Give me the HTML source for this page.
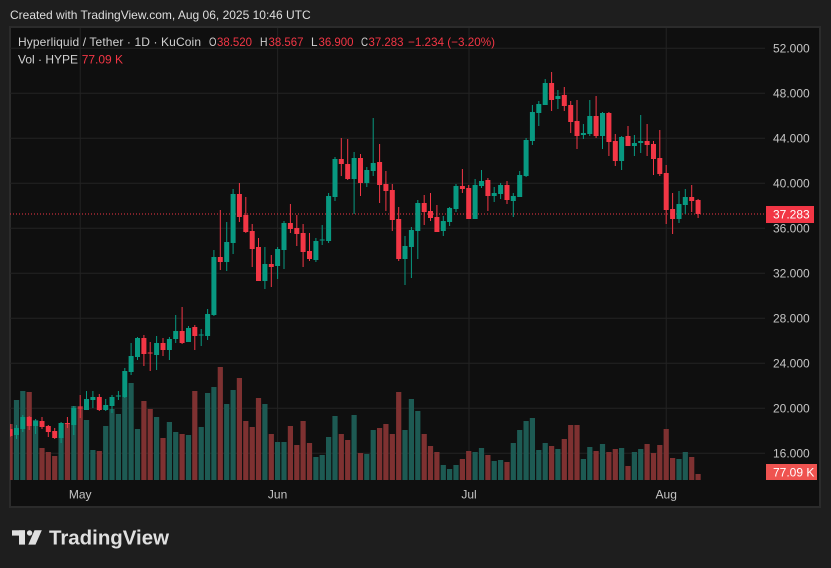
<!DOCTYPE html>
<html><head><meta charset="utf-8"><style>
html,body{margin:0;padding:0;background:#1e1e1e;width:831px;height:568px;overflow:hidden}
svg{display:block}
text{font-family:"Liberation Sans",sans-serif}
</style></head><body>
<svg width="831" height="568" viewBox="0 0 831 568" xmlns="http://www.w3.org/2000/svg">
<defs><clipPath id="pane"><rect x="10" y="27" width="755" height="453"/></clipPath></defs>
<rect x="0" y="0" width="831" height="568" fill="#1e1e1e"/>
<text x="10" y="19" font-size="12" fill="#dedede">Created with TradingView.com, Aug 06, 2025 10:46 UTC</text>
<rect x="10" y="27" width="810" height="480" fill="#0f0f0f" stroke="#2b2b2b" stroke-width="2"/>
<g stroke="#232323" stroke-width="1">
<path d="M10 48.3H765M10 93.3H765M10 138.3H765M10 183.3H765M10 228.3H765M10 273.3H765M10 318.3H765M10 363.3H765M10 408.3H765M10 453.3H765"/>
<path d="M80.2 28V480M277.6 28V480M469 28V480M666.2 28V480"/>
</g>
<g clip-path="url(#pane)">
<path fill="#1d5a53" d="M13.9 400h5.2V480h-5.2zM20.2 391h5.2V480h-5.2zM33 420h5.2V480h-5.2zM58.5 423h5.2V480h-5.2zM71.2 406h5.2V480h-5.2zM83.9 420h5.2V480h-5.2zM90.3 450h5.2V480h-5.2zM103.1 426h5.2V480h-5.2zM109.4 409h5.2V480h-5.2zM115.8 414h5.2V480h-5.2zM122.2 397h5.2V480h-5.2zM128.5 383h5.2V480h-5.2zM134.9 429h5.2V480h-5.2zM154 417h5.2V480h-5.2zM166.8 422h5.2V480h-5.2zM173.1 432h5.2V480h-5.2zM185.9 435h5.2V480h-5.2zM198.6 427h5.2V480h-5.2zM205 393h5.2V480h-5.2zM211.3 387h5.2V480h-5.2zM224.1 404h5.2V480h-5.2zM230.5 390h5.2V480h-5.2zM262.3 404h5.2V480h-5.2zM275 442h5.2V480h-5.2zM281.4 442h5.2V480h-5.2zM313.3 457h5.2V480h-5.2zM319.6 455h5.2V480h-5.2zM326 437h5.2V480h-5.2zM332.4 416h5.2V480h-5.2zM351.5 415h5.2V480h-5.2zM364.2 454h5.2V480h-5.2zM370.6 430h5.2V480h-5.2zM402.4 430h5.2V480h-5.2zM408.8 399h5.2V480h-5.2zM415.2 411h5.2V480h-5.2zM440.7 465h5.2V480h-5.2zM447 469h5.2V480h-5.2zM453.4 465h5.2V480h-5.2zM472.5 452h5.2V480h-5.2zM478.9 448h5.2V480h-5.2zM491.6 461h5.2V480h-5.2zM498 460h5.2V480h-5.2zM510.7 443h5.2V480h-5.2zM517.1 430h5.2V480h-5.2zM523.5 421h5.2V480h-5.2zM529.8 418h5.2V480h-5.2zM536.2 450h5.2V480h-5.2zM542.6 443h5.2V480h-5.2zM555.3 449h5.2V480h-5.2zM580.8 459h5.2V480h-5.2zM587.2 447h5.2V480h-5.2zM599.9 444h5.2V480h-5.2zM619 448h5.2V480h-5.2zM631.8 452h5.2V480h-5.2zM638.1 449h5.2V480h-5.2zM676.4 459h5.2V480h-5.2zM682.7 452h5.2V480h-5.2z"/>
<path fill="#7e3131" d="M7.5 424h5.2V480h-5.2zM26.6 392h5.2V480h-5.2zM39.4 448h5.2V480h-5.2zM45.7 452h5.2V480h-5.2zM52.1 456h5.2V480h-5.2zM64.8 423h5.2V480h-5.2zM77.6 406h5.2V480h-5.2zM96.7 451h5.2V480h-5.2zM141.3 401h5.2V480h-5.2zM147.6 409h5.2V480h-5.2zM160.4 438h5.2V480h-5.2zM179.5 434h5.2V480h-5.2zM192.2 391h5.2V480h-5.2zM217.7 367h5.2V480h-5.2zM236.8 378h5.2V480h-5.2zM243.2 421h5.2V480h-5.2zM249.6 427h5.2V480h-5.2zM255.9 398h5.2V480h-5.2zM268.7 434h5.2V480h-5.2zM287.8 426h5.2V480h-5.2zM294.2 445h5.2V480h-5.2zM300.5 421h5.2V480h-5.2zM306.9 443h5.2V480h-5.2zM338.7 434h5.2V480h-5.2zM345.1 440h5.2V480h-5.2zM357.9 453h5.2V480h-5.2zM377 428h5.2V480h-5.2zM383.3 424h5.2V480h-5.2zM389.7 434h5.2V480h-5.2zM396.1 392h5.2V480h-5.2zM421.6 434h5.2V480h-5.2zM427.9 446h5.2V480h-5.2zM434.3 452h5.2V480h-5.2zM459.8 459h5.2V480h-5.2zM466.1 451h5.2V480h-5.2zM485.3 455h5.2V480h-5.2zM504.4 462h5.2V480h-5.2zM549 446h5.2V480h-5.2zM561.7 439h5.2V480h-5.2zM568.1 425h5.2V480h-5.2zM574.4 425h5.2V480h-5.2zM593.5 451h5.2V480h-5.2zM606.3 452h5.2V480h-5.2zM612.7 449h5.2V480h-5.2zM625.4 466h5.2V480h-5.2zM644.5 444h5.2V480h-5.2zM650.9 453h5.2V480h-5.2zM657.2 445h5.2V480h-5.2zM663.6 429h5.2V480h-5.2zM670 458h5.2V480h-5.2zM689.1 457h5.2V480h-5.2zM695.5 474h5.2V480h-5.2z"/>
<path stroke="#f23645" stroke-width="1" stroke-dasharray="1 2" d="M10 214H765"/>
<path stroke="#089981" stroke-width="1" fill="none" d="M16.5 425V439M22.8 415V432M35.6 419V434M61.1 422V443M73.8 406V435M86.5 391V410M92.9 391V408M105.7 399V411M112 395V413M118.4 391V400M124.8 368V398M131.1 343V375M137.5 337V360M156.6 336V370M169.4 337V360M175.7 315V343M188.5 326V342M201.2 329V346M207.6 309V340M213.9 250V316M226.7 222V271M233.1 189V254M264.9 247V289M277.6 247V279M284 221V269M315.9 238V262M322.2 225V245M328.6 193V243M335 157V201M354.1 152V214M366.8 167V187M373.2 118V176M405 236V285M411.4 227V278M417.8 200V259M443.3 216V236M449.6 207V226M456 184V212M475.1 179V219M481.5 170V188M494.2 187V202M500.6 183V199M513.3 193V217M519.7 171V197M526.1 138V177M532.4 105V145M538.8 101V126M545.2 79V105M557.9 90V109M583.4 124V139M589.8 100V136M602.5 112V149M621.6 136V170M634.4 135V156M640.7 115V153M679 191V223M685.3 189V214"/>
<path fill="#089981" d="M14 428h5v7h-5zM20.3 417h5v12h-5zM33.1 421h5v5h-5zM58.6 423h5v15h-5zM71.3 408h5v17h-5zM84 399h5v11h-5zM90.4 397h5v3h-5zM103.2 405h5v5h-5zM109.5 397h5v9h-5zM115.9 395.5h5v1h-5zM122.3 371h5v26h-5zM128.6 356h5v16h-5zM135 338h5v19h-5zM154.1 343h5v12h-5zM166.9 339h5v11h-5zM173.2 331h5v8h-5zM186 328h5v14h-5zM198.7 334.5h5v1h-5zM205.1 314h5v22h-5zM211.4 257h5v58h-5zM224.2 242h5v20h-5zM230.6 194h5v49h-5zM262.4 264h5v17h-5zM275.1 249h5v17h-5zM281.5 223h5v27h-5zM313.4 241h5v19h-5zM319.7 239.5h5v1h-5zM326.1 196h5v45h-5zM332.5 159h5v38h-5zM351.6 158h5v21h-5zM364.3 170h5v13h-5zM370.7 163h5v8h-5zM402.5 246h5v13h-5zM408.9 230h5v17h-5zM415.3 203h5v28h-5zM440.8 221h5v10h-5zM447.1 208h5v14h-5zM453.5 186h5v23h-5zM472.6 185h5v34h-5zM479 181h5v5h-5zM491.7 193h5v3h-5zM498.1 185h5v9h-5zM510.8 196h5v5h-5zM517.2 175h5v22h-5zM523.6 140h5v36h-5zM529.9 112h5v29h-5zM536.3 104h5v9h-5zM542.7 83h5v22h-5zM555.4 96h5v3h-5zM580.9 133h5v2h-5zM587.3 116h5v18h-5zM600 113h5v23h-5zM619.1 137h5v24h-5zM631.9 143h5v3h-5zM638.2 141h5v2h-5zM676.5 204h5v15h-5zM682.8 197h5v8h-5z"/>
<path stroke="#f23645" stroke-width="1" fill="none" d="M10.1 424V437M29.2 416V430M42 417V429M48.3 425V437M54.7 428V439M67.4 417V428M80.2 395V418M99.3 394V411M143.9 335V366M150.2 342V371M163 338V356M182.1 307V344M194.8 325V350M220.3 210V270M239.4 183V222M245.8 197V233M252.2 224V267M258.5 238V281M271.3 255V287M290.4 204V233M296.8 215V246M303.1 224V267M309.5 233V261M341.3 138V176M347.7 139V180M360.5 154V196M379.6 144V203M385.9 171V211M392.3 184V231M398.7 207V261M424.2 195V225M430.5 193V221M436.9 205V232M462.4 169V193M468.7 185V219M487.9 178V211M507 181V204M551.6 72V111M564.3 87V111M570.7 101V133M577 100V149M596.1 96V138M608.9 112V156M615.3 134V166M628 126V146M647.1 124V156M653.5 141V175M659.8 130V176M666.2 165V224M672.6 193V234M691.7 185V212M698.1 199V218"/>
<path fill="#f23645" d="M7.6 429h5v7h-5zM26.7 417h5v9h-5zM39.5 421h5v6h-5zM45.8 426h5v6h-5zM52.2 431h5v7h-5zM64.9 423h5v1h-5zM77.7 407.5h5v1h-5zM96.8 397h5v13h-5zM141.4 338h5v16h-5zM147.7 352.5h5v1h-5zM160.5 343h5v7h-5zM179.6 331h5v12h-5zM192.3 327h5v9h-5zM217.8 257h5v5h-5zM236.9 194h5v23h-5zM243.3 215h5v17h-5zM249.7 231h5v18h-5zM256 247h5v34h-5zM268.8 264h5v3h-5zM287.9 223h5v6h-5zM294.3 228h5v6h-5zM300.6 233h5v19h-5zM307 251h5v8h-5zM338.8 159h5v5h-5zM345.2 164h5v15h-5zM358 158h5v25h-5zM377.1 162h5v23h-5zM383.4 184h5v7h-5zM389.8 190h5v30h-5zM396.2 219h5v40h-5zM421.7 203h5v9h-5zM428 211h5v7h-5zM434.4 217h5v15h-5zM459.9 186h5v3h-5zM466.2 188h5v31h-5zM485.4 180h5v16h-5zM504.5 185h5v15h-5zM549.1 83h5v17h-5zM561.8 95h5v11h-5zM568.2 105h5v17h-5zM574.5 121h5v15h-5zM593.6 116h5v20h-5zM606.4 113h5v29h-5zM612.8 141h5v20h-5zM625.5 136h5v10h-5zM644.6 141h5v4h-5zM651 144h5v15h-5zM657.3 158h5v16h-5zM663.7 173h5v37h-5zM670.1 209h5v10h-5zM689.2 197h5v4h-5zM695.6 200h5v14h-5z"/>
</g>
<g font-size="12" fill="#c4c4c4">
<text x="773" y="52.6">52.000</text>
<text x="773" y="97.6">48.000</text>
<text x="773" y="142.6">44.000</text>
<text x="773" y="187.6">40.000</text>
<text x="773" y="232.6">36.000</text>
<text x="773" y="277.6">32.000</text>
<text x="773" y="322.6">28.000</text>
<text x="773" y="367.6">24.000</text>
<text x="773" y="412.6">20.000</text>
<text x="773" y="457.6">16.000</text>
</g>
<rect x="766" y="206" width="48" height="17" fill="#f23645"/>
<text x="773" y="218.6" font-size="12" fill="#ffffff">37.283</text>
<rect x="766" y="464" width="51" height="16" fill="#ef5350"/>
<text x="773" y="476.3" font-size="12" fill="#ffffff">77.09 K</text>
<g font-size="12" fill="#c4c4c4" text-anchor="middle">
<text x="80.2" y="498.3">May</text>
<text x="277.6" y="498.3">Jun</text>
<text x="469" y="498.3">Jul</text>
<text x="666.2" y="498.3">Aug</text>
</g>
<g font-size="12">
<text x="18" y="46" fill="#d1d1d1" textLength="183" lengthAdjust="spacing">Hyperliquid / Tether · 1D · KuCoin</text>
<text x="209" y="46" fill="#d1d1d1" textLength="7.5" lengthAdjust="spacingAndGlyphs">O</text><text x="217" y="46" fill="#f23645" textLength="35" lengthAdjust="spacingAndGlyphs">38.520</text>
<text x="260" y="46" fill="#d1d1d1" textLength="7.5" lengthAdjust="spacingAndGlyphs">H</text><text x="268.5" y="46" fill="#f23645" textLength="35" lengthAdjust="spacingAndGlyphs">38.567</text>
<text x="311" y="46" fill="#d1d1d1" textLength="6.5" lengthAdjust="spacingAndGlyphs">L</text><text x="318.5" y="46" fill="#f23645" textLength="35" lengthAdjust="spacingAndGlyphs">36.900</text>
<text x="361" y="46" fill="#d1d1d1" textLength="7" lengthAdjust="spacingAndGlyphs">C</text><text x="368.5" y="46" fill="#f23645" textLength="35" lengthAdjust="spacingAndGlyphs">37.283</text>
<text x="408" y="46" fill="#f23645" textLength="87" lengthAdjust="spacingAndGlyphs">−1.234 (−3.20%)</text>
<text x="18" y="63.3" fill="#d1d1d1">Vol · HYPE</text>
<text x="81.7" y="63.3" fill="#f23645">77.09 K</text>
</g>
<g fill="#e0e0e0">
<rect x="12" y="530.3" width="13" height="5.3"/>
<rect x="19" y="530.3" width="6" height="14.3"/>
<circle cx="29.6" cy="533" r="2.7"/>
<polygon points="34.5,530.3 41.8,530.3 35.5,544.6 28.3,544.6"/>
<text x="49" y="544.4" font-size="20" font-weight="bold" textLength="120" lengthAdjust="spacingAndGlyphs">TradingView</text>
</g>
</svg>
</body></html>
